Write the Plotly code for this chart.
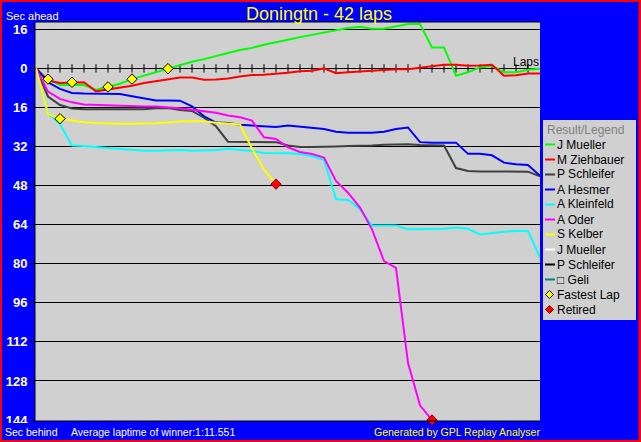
import plotly.graph_objects as go

# ---------------- data ----------------
laps = list(range(43))
drivers = ["J Mueller", "M Ziehbauer", "P Schleifer", "A Hesmer", "A Kleinfeld",
           "A Oder", "S Kelber", "J Mueller", "P Schleifer", "\u25a1 Geli"]

# seconds ahead (+) / behind (-) relative to winner's average lap pace
gap_j_mueller = [0, -4.4, -6.8, -6.7, -6.8, -8.7, -7.6, -6.3, -4.4, -3.0, -1.6, -0.1, 1.4, 2.7,
                 3.8, 5.2, 6.3, 7.5, 8.4, 9.7, 10.6, 11.7, 12.8, 13.7, 14.7, 15.3, 16.5, 17.0,
                 16.2, 16.2, 17.1, 18.2, 18.2, 8.6, 8.6, -3.0, -1.6, 0.4, 1.1, -1.6, -1.6, -0.6, -0.1]
gap_m_ziehbauer = [0, -5.0, -6.0, -5.7, -5.7, -9.4, -8.7, -7.8, -7.1, -6.0, -5.2, -4.4, -3.7, -3.7,
                   -4.6, -4.5, -4.1, -3.3, -2.7, -2.6, -2.3, -1.8, -1.2, -1.0, 0.0, -2.0, -1.6, -1.2,
                   -1.0, -0.5, -0.3, -0.3, 0.2, 0.7, 1.5, 1.5, 1.1, 1.2, 1.5, -3.0, -2.8, -2.1, -2.1]
gap_p_schleifer = [0, -11.5, -15.0, -16.4, -16.7, -16.7, -16.7, -16.7, -16.7, -16.7, -16.3, -16.2,
                   -17.0, -17.4, -20.2, -23.7, -30.0, -30.0, -30.0, -30.0, -30.2, -31.6, -32.2, -32.2,
                   -32.2, -32.0, -31.8, -31.8, -31.6, -31.3, -31.1, -31.1, -31.4, -31.6, -31.6, -40.8,
                   -42.0, -42.2, -42.2, -42.0, -42.0, -42.3, -44.2]
gap_a_hesmer = [0, -5.7, -8.4, -10.1, -10.3, -10.3, -10.3, -10.5, -11.4, -12.2, -13.1, -13.1, -13.2,
                -15.5, -19.6, -22.2, -22.4, -23.1, -23.4, -23.7, -24.0, -23.4, -23.8, -24.2, -24.8,
                -25.9, -26.4, -26.4, -26.4, -25.9, -24.8, -24.2, -30.2, -30.4, -30.4, -30.4, -35.0,
                -35.0, -35.6, -38.6, -39.3, -39.6, -44.0]
gap_a_kleinfeld = [0, -18.5, -22.8, -31.6, -31.8, -32.3, -32.6, -33.0, -33.3, -33.7, -33.7, -33.4,
                   -33.4, -33.7, -33.7, -33.4, -32.9, -33.3, -33.8, -34.6, -34.6, -34.8, -35.1, -36.0,
                   -37.4, -53.6, -53.9, -57.7, -64.3, -64.3, -64.3, -65.9, -65.9, -65.9, -65.7, -65.2,
                   -65.7, -68.0, -67.3, -66.9, -66.6, -66.6, -77.5]
gap_a_oder = [0, -9.5, -12.5, -13.9, -14.8, -15.0, -15.0, -15.2, -15.5, -15.6, -15.6, -15.8, -16.3,
              -16.9, -17.4, -18.2, -19.3, -20.0, -21.4, -28.2, -28.9, -32.3, -34.2, -35.1, -36.5,
              -46.1, -50.9, -57.0, -65.9, -78.9, -81.7, -120.6, -138.0, -144.0]
gap_s_kelber = [0, -18.7, -20.6, -21.5, -22.1, -22.4, -22.7, -22.7, -22.7, -22.7, -22.5, -22.2,
                -21.7, -21.6, -21.6, -22.3, -22.7, -23.0, -32.8, -41.5, -47.4]
series = [gap_j_mueller, gap_m_ziehbauer, gap_p_schleifer, gap_a_hesmer, gap_a_kleinfeld,
          gap_a_oder, gap_s_kelber, [], [], []]

fastest_laps = [(0, 1), (6, 2), (1, 3), (0, 6), (0, 8), (0, 11)]   # (driver index, lap)
retired = [(6, 20), (5, 33)]                                       # (driver index, lap)

ytick_vals = [16, 0, -16, -32, -48, -64, -80, -96, -112, -128, -144]
ytick_text = ["16", "0", "16", "32", "48", "64", "80", "96", "112", "128", "144"]

title_text = "Doningtn - 42 laps"
avg_text = "Average laptime of winner:1:11.551"

# ---------------- style ----------------
colors = ["#00FF00", "#FF0000", "#404040", "#0000FF", "#00FFFF",
          "#FF00FF", "#FFFF00", "#FFFFFF", "#000000", "#008080"]
FONT = "Liberation Sans, Arial, sans-serif"
BG = "#0000FF"
PLOT_BG = "#D0D0D0"
W, H = 641, 442
L, T, PW, PH = 35, 22, 505, 399


def fx(px):
    return (px - L) / PW


def fy(py):
    return (T + PH - py) / PH


fig = go.Figure()

# lap tick marks on the zero line
fig.add_trace(go.Scatter(x=laps[1:-1], y=[0] * (len(laps) - 2), mode="markers",
                         marker=dict(symbol="line-ns", size=6, line=dict(width=1, color="black")),
                         hoverinfo="skip", showlegend=False))

for i, s in enumerate(series):
    if not s:
        continue
    fig.add_trace(go.Scatter(x=laps[:len(s)], y=s, mode="lines", name=drivers[i],
                             line=dict(color=colors[i], width=2), showlegend=False))

fig.add_trace(go.Scatter(x=[l for d, l in fastest_laps],
                         y=[series[d][l] for d, l in fastest_laps],
                         mode="markers", name="Fastest Lap", showlegend=False, cliponaxis=False,
                         marker=dict(symbol="diamond", size=8, color="#FFFF00",
                                     line=dict(width=1, color="black"))))
fig.add_trace(go.Scatter(x=[l for d, l in retired],
                         y=[series[d][l] for d, l in retired],
                         mode="markers", name="Retired", showlegend=False, cliponaxis=False,
                         marker=dict(symbol="diamond", size=8, color="#FF0000",
                                     line=dict(width=1, color="#800000"))))

shapes = []
# plot frame (left, top, bottom)
for x0, y0, x1, y1 in [(0, 0, 0, 1), (0, 1, 1, 1), (0, 0, 1, 0)]:
    shapes.append(dict(type="line", xref="paper", yref="paper", x0=x0, y0=y0, x1=x1, y1=y1,
                       line=dict(color="black", width=1)))
# bottom caption band clips the lowest tick label as in the original
shapes.append(dict(type="rect", xref="paper", yref="paper", x0=fx(2), x1=fx(33.5),
                   y0=fy(439), y1=fy(423), fillcolor=BG, line=dict(width=0)))
# red outer border
shapes.append(dict(type="rect", xref="paper", yref="paper", x0=fx(0), x1=fx(W - 0.5),
                   y0=fy(H), y1=fy(0), line=dict(color="#FF0000", width=4)))
# legend box
shapes.append(dict(type="rect", xref="paper", yref="paper", x0=fx(543), x1=fx(636),
                   y0=fy(320), y1=fy(120), fillcolor=PLOT_BG, line=dict(width=0)))

annotations = []
annotations.append(dict(text="Result/Legend", xref="paper", yref="paper", x=fx(545), y=fy(129.5),
                        xanchor="left", yanchor="middle", showarrow=False,
                        font=dict(family=FONT, size=12, color="#808080")))
for i, name in enumerate(drivers):
    py = 144.5 + 15 * i
    shapes.append(dict(type="line", xref="paper", yref="paper", x0=fx(545), x1=fx(555),
                       y0=fy(py), y1=fy(py), line=dict(color=colors[i], width=2)))
    annotations.append(dict(text=name, xref="paper", yref="paper", x=fx(555), y=fy(py),
                            xanchor="left", yanchor="middle", showarrow=False,
                            font=dict(family=FONT, size=12, color="black")))
for j, (name, fill, edge) in enumerate([("Fastest Lap", "#FFFF00", "black"),
                                       ("Retired", "#FF0000", "#800000")]):
    py = 144.5 + 15 * (len(drivers) + j)
    cx = 549.5
    path = "M {} {} L {} {} L {} {} L {} {} Z".format(fx(cx), fy(py - 4), fx(cx + 4), fy(py),
                                                     fx(cx), fy(py + 4), fx(cx - 4), fy(py))
    shapes.append(dict(type="path", xref="paper", yref="paper", path=path, fillcolor=fill,
                       line=dict(color=edge, width=1)))
    annotations.append(dict(text=name, xref="paper", yref="paper", x=fx(555), y=fy(py),
                            xanchor="left", yanchor="middle", showarrow=False,
                            font=dict(family=FONT, size=12, color="black")))

# texts
annotations += [
    dict(text=title_text, xref="paper", yref="paper", x=fx(319), y=fy(13.5), xanchor="center",
         yanchor="middle", showarrow=False, font=dict(family=FONT, size=18, color="#FFFF00")),
    dict(text="Sec ahead", xref="paper", yref="paper", x=fx(4), y=fy(16), xanchor="left",
         yanchor="middle", showarrow=False, font=dict(family=FONT, size=11, color="white")),
    dict(text="Sec behind", xref="paper", yref="paper", x=fx(3), y=fy(432), xanchor="left",
         yanchor="middle", showarrow=False, font=dict(family=FONT, size=10.5, color="white")),
    dict(text=avg_text, xref="paper", yref="paper", x=fx(69), y=fy(432), xanchor="left",
         yanchor="middle", showarrow=False, font=dict(family=FONT, size=10.5, color="white")),
    dict(text="Generated by GPL Replay Analyser", xref="paper", yref="paper", x=fx(542),
         y=fy(432), xanchor="right", yanchor="middle", showarrow=False,
         font=dict(family=FONT, size=10.5, color="#FFFF00")),
    dict(text="Laps", xref="paper", yref="paper", x=fx(541), y=fy(62), xanchor="right",
         yanchor="middle", showarrow=False, font=dict(family=FONT, size=12, color="black")),
]

fig.update_layout(
    width=W, height=H,
    margin=dict(l=L, r=W - L - PW, t=T, b=H - T - PH, pad=0, autoexpand=False),
    paper_bgcolor=BG, plot_bgcolor=PLOT_BG,
    showlegend=False,
    shapes=shapes, annotations=annotations,
    xaxis=dict(range=[-0.083, 42], visible=False, fixedrange=True, automargin=False),
    yaxis=dict(range=[-144.4, 19.0], tickmode="array", tickvals=ytick_vals, ticktext=ytick_text,
               tickfont=dict(family=FONT, size=13, color="white", weight="bold"),
               ticks="outside", ticklen=4, tickcolor="black", showgrid=True, gridcolor="black",
               gridwidth=1, zeroline=True, zerolinecolor="black", zerolinewidth=1,
               showline=False, fixedrange=True, automargin=False),
)

fig.write_html("out.html", config={"displayModeBar": False},
               post_script="document.body.style.margin='0px';")
